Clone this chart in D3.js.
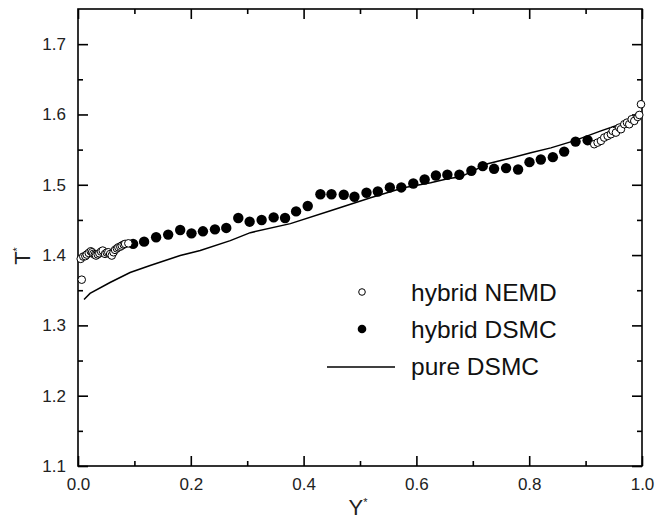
<!DOCTYPE html>
<html>
<head>
<meta charset="utf-8">
<script src="https://cdn.jsdelivr.net/npm/d3@7/dist/d3.min.js"></script>
<style>
  html, body { margin: 0; padding: 0; background: #fff; }
  svg { display: block; font-family: "Liberation Sans", Arial, sans-serif; }
</style>
</head>
<body>
<svg id="chart" width="658" height="527"></svg>
<script>
// ---- Data ----
const nemdX = [0.0066, 0.0048, 0.0094, 0.0130, 0.0155, 0.0190, 0.0226, 0.0250, 0.0272, 0.0300, 0.0320, 0.0350, 0.0378, 0.0410, 0.0439, 0.0480, 0.0510, 0.0538, 0.0570, 0.0599, 0.0630, 0.0657, 0.0690, 0.0716, 0.0750, 0.0776, 0.0810, 0.0835, 0.0893,
  0.9153, 0.9213, 0.9272, 0.9330, 0.9391, 0.9449, 0.9480, 0.9538, 0.9597, 0.9627, 0.9686, 0.9734, 0.9774, 0.9817, 0.9863, 0.9924, 0.9952, 0.9982];
const nemdT = [1.365, 1.3946, 1.3979, 1.3985, 1.4007, 1.4030, 1.4054, 1.4040, 1.4017, 1.4005, 1.3993, 1.4010, 1.4026, 1.4050, 1.4064, 1.4017, 1.4035, 1.4040, 1.4015, 1.3993, 1.4040, 1.4074, 1.4095, 1.4111, 1.4120, 1.4135, 1.4150, 1.4159, 1.4167,
  1.5577, 1.5600, 1.5624, 1.5671, 1.5695, 1.5719, 1.5766, 1.5742, 1.5813, 1.5790, 1.5861, 1.5884, 1.5861, 1.5932, 1.5908, 1.5965, 1.5993, 1.6145];

const dsmcX = [0.0977, 0.1172, 0.1385, 0.1599, 0.1812, 0.2012, 0.2215, 0.2428, 0.2629, 0.2842, 0.3043, 0.3256, 0.3469, 0.3671, 0.3867, 0.4073, 0.4298, 0.4494, 0.4712, 0.4902, 0.5115, 0.5316, 0.5529, 0.5732, 0.5945, 0.6146, 0.6346, 0.6549, 0.6762, 0.6975, 0.7176, 0.7377, 0.7590, 0.7803, 0.8005, 0.8206, 0.8419, 0.8620, 0.8822, 0.9036];
const dsmcT = [1.4159, 1.4191, 1.4253, 1.4291, 1.4357, 1.4309, 1.4338, 1.4366, 1.4386, 1.4528, 1.4475, 1.4499, 1.4536, 1.4528, 1.4621, 1.4698, 1.4865, 1.4865, 1.4858, 1.4830, 1.4887, 1.4905, 1.4962, 1.4962, 1.5018, 1.5075, 1.5132, 1.5142, 1.5142, 1.5199, 1.5265, 1.5227, 1.5237, 1.5217, 1.5322, 1.5359, 1.5393, 1.5472, 1.5614, 1.5634];

const pureX = [0.0107, 0.0213, 0.0568, 0.0924, 0.1279, 0.1812, 0.2167, 0.2700, 0.3055, 0.3766, 0.4476, 0.5187, 0.5773, 0.6252, 0.6554, 0.6785, 0.7265, 0.7620, 0.8028, 0.8384, 0.8792, 0.9272, 0.9680, 1.0];
const pureT = [1.3369, 1.3454, 1.3610, 1.3752, 1.3851, 1.3993, 1.4064, 1.4206, 1.4319, 1.4447, 1.4631, 1.4816, 1.4957, 1.5028, 1.5085, 1.5113, 1.5298, 1.5369, 1.5454, 1.5525, 1.5624, 1.5766, 1.5879, 1.6007];

const xTicks = [0.0, 0.2, 0.4, 0.6, 0.8, 1.0];
const xMinor = [0.1, 0.3, 0.5, 0.7, 0.9];
const yTicks = [1.1, 1.2, 1.3, 1.4, 1.5, 1.6, 1.7];
const yMinor = [1.15, 1.25, 1.35, 1.45, 1.55, 1.65];
const legendLabels = ["hybrid NEMD", "hybrid DSMC", "pure DSMC"];

// ---- Layout ----
const svg = d3.select("#chart");
const L = 78, R = 642, T = 9, B = 466;
const x = d3.scaleLinear().domain([0, 1]).range([L, R]);
const y = d3.scaleLinear().domain([1.1, 1.75]).range([B, T]);

const g = svg.append("g");

function styleAxis(sel) {
  sel.select(".domain").remove();
  sel.selectAll(".tick line").attr("stroke", "#000").attr("stroke-width", 1.6);
  sel.selectAll(".tick text").attr("fill", "#222").style("font-size", "17px")
    .style("font-family", "'Liberation Sans', Arial, sans-serif");
}

// bottom
const xb = g.append("g").attr("transform", `translate(0,${B})`)
  .call(d3.axisBottom(x).tickValues(xTicks).tickSize(-10).tickPadding(12).tickFormat(d3.format(".1f")));
styleAxis(xb);
const xbm = g.append("g").attr("transform", `translate(0,${B})`)
  .call(d3.axisBottom(x).tickValues(xMinor).tickSize(-5).tickFormat(""));
styleAxis(xbm);
// left
const yl = g.append("g").attr("transform", `translate(${L},0)`)
  .call(d3.axisLeft(y).tickValues(yTicks).tickSize(-10).tickPadding(12).tickFormat(d3.format(".1f")));
styleAxis(yl);
const ylm = g.append("g").attr("transform", `translate(${L},0)`)
  .call(d3.axisLeft(y).tickValues(yMinor).tickSize(-5).tickFormat(""));
styleAxis(ylm);
// right (mirror ticks)
const yr = g.append("g").attr("transform", `translate(${R},0)`)
  .call(d3.axisRight(y).tickValues(yTicks).tickSize(-10).tickFormat(""));
styleAxis(yr);
const yrm = g.append("g").attr("transform", `translate(${R},0)`)
  .call(d3.axisRight(y).tickValues(yMinor).tickSize(-5).tickFormat(""));
styleAxis(yrm);
// top (mirror ticks)
const xt = g.append("g").attr("transform", `translate(0,${T})`)
  .call(d3.axisTop(x).tickValues(xTicks).tickSize(-10).tickFormat(""));
styleAxis(xt);
const xtm = g.append("g").attr("transform", `translate(0,${T})`)
  .call(d3.axisTop(x).tickValues(xMinor).tickSize(-5).tickFormat(""));
styleAxis(xtm);

// frame
g.append("rect").attr("x", L).attr("y", T).attr("width", R - L).attr("height", B - T)
  .attr("fill", "none").attr("stroke", "#000").attr("stroke-width", 1.6);

// pure DSMC line
const pureData = pureX.map((d, i) => [d, pureT[i]]);
g.append("path").datum(pureData)
  .attr("d", d3.line().x(d => x(d[0])).y(d => y(d[1])))
  .attr("fill", "none").attr("stroke", "#000").attr("stroke-width", 1.5);

// hybrid DSMC filled
const dsmcData = dsmcX.map((d, i) => [d, dsmcT[i]]);
g.append("g").selectAll("circle").data(dsmcData).join("circle")
  .attr("cx", d => x(d[0])).attr("cy", d => y(d[1])).attr("r", 5.2).attr("fill", "#000");

// hybrid NEMD open
const nemdData = nemdX.map((d, i) => [d, nemdT[i]]);
g.append("g").selectAll("circle").data(nemdData).join("circle")
  .attr("cx", d => x(d[0])).attr("cy", d => y(d[1])).attr("r", 3.8)
  .attr("fill", "#fff").attr("stroke", "#000").attr("stroke-width", 1);

// axis titles
svg.append("text").attr("transform", "translate(30,256) rotate(-90)")
  .attr("text-anchor", "middle").attr("fill", "#222").style("font-size", "22px")
  .html('T<tspan dy="-9" font-size="11px">*</tspan>');
svg.append("text").attr("x", 358).attr("y", 515)
  .attr("text-anchor", "middle").attr("fill", "#222").style("font-size", "22px")
  .html('Y<tspan dy="-9" font-size="11px">*</tspan>');

// legend
const lg = svg.append("g");
const lx = 411, ly0 = 301, ldy = 37;
lg.append("circle").attr("cx", 362).attr("cy", ly0 - 9).attr("r", 3.3)
  .attr("fill", "#fff").attr("stroke", "#000").attr("stroke-width", 1);
lg.append("circle").attr("cx", 362).attr("cy", ly0 + ldy - 9).attr("r", 4.3).attr("fill", "#000");
lg.append("line").attr("x1", 327).attr("x2", 395).attr("y1", ly0 + 2 * ldy - 8).attr("y2", ly0 + 2 * ldy - 8)
  .attr("stroke", "#000").attr("stroke-width", 1.5);
lg.selectAll("text").data(legendLabels).join("text")
  .attr("x", lx).attr("y", (d, i) => ly0 + i * ldy)
  .attr("fill", "#111").style("font-size", "24.5px").text(d => d);
</script>
</body>
</html>
